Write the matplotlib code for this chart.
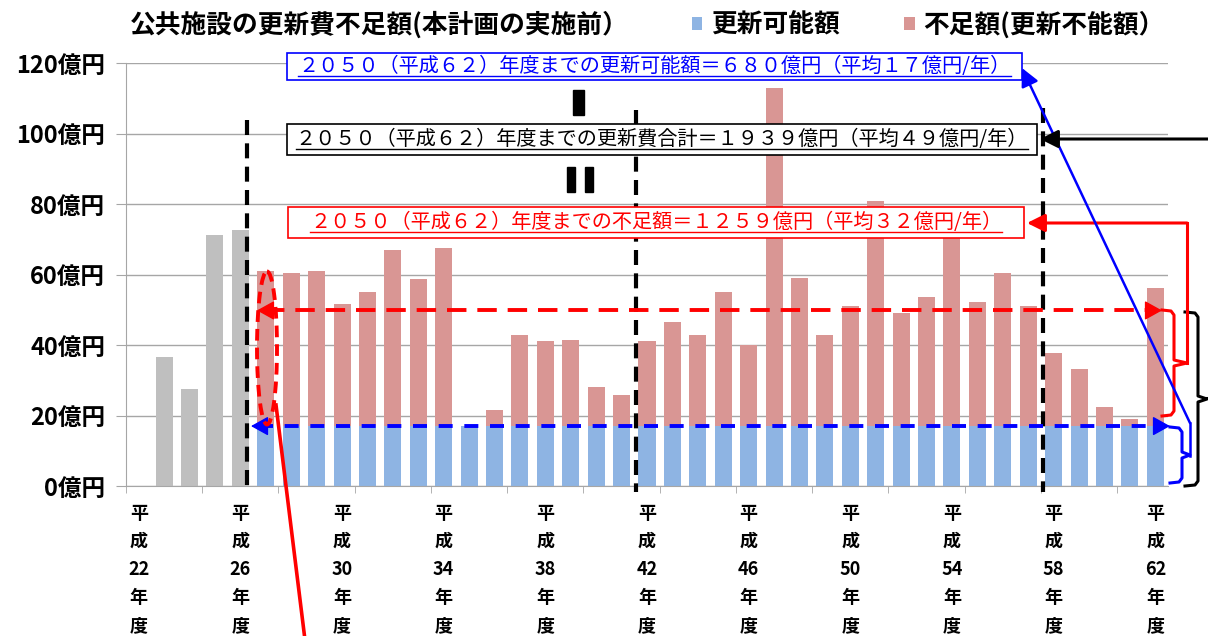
import matplotlib
matplotlib.use("Agg")
import matplotlib.pyplot as plt
import matplotlib.transforms as mtransforms
from matplotlib.patches import Rectangle, Ellipse, FancyArrowPatch
from matplotlib.lines import Line2D
import numpy as np

plt.rcParams['font.family'] = ['Noto Sans CJK JP', 'DejaVu Sans']

# fiscal years 平成22 .. 平成62
years = list(range(22, 63))
# past renewal spending (平成22-26), 億円
past_cost = [0, 36.7, 27.6, 71.1, 72.5]
# forecast renewal cost (平成27-62), 億円
total_cost = [60.9, 60.4, 61.1, 51.5, 55.0, 67.0, 58.6, 67.4, 17.0, 21.5,
              42.7, 41.1, 41.5, 28.1, 25.8, 41.1, 46.5, 42.7, 55.0, 40.1,
              112.9, 59.1, 42.7, 51.1, 80.8, 49.2, 53.5, 72.0, 52.3, 60.4,
              51.1, 37.7, 33.1, 22.3, 18.9, 56.2]
possible_per_year = 17      # 更新可能額
avg_total_line = 49.8       # average total (dashed red)

title = "公共施設の更新費不足額(本計画の実施前）"
legend_labels = ["更新可能額", "不足額(更新不能額）"]
note_possible = "２０５０（平成６２）年度までの更新可能額＝６８０億円（平均１７億円/年）"
note_total = "２０５０（平成６２）年度までの更新費合計＝１９３９億円（平均４９億円/年）"
note_short = "２０５０（平成６２）年度までの不足額＝１２５９億円（平均３２億円/年）"

GRAY = "#BFBFBF"
BLUE = "#8EB4E3"
PINK = "#D99694"
GRID = "#A6A6A6"

W, H = 1208, 636
fig = plt.figure(figsize=(W / 100, H / 100), dpi=100)
ax = fig.add_axes([126 / W, (H - 486) / H, (1168 - 126) / W, (486 - 63) / H])

x = np.arange(len(years))
n_past = len(past_cost)
possible = np.full(len(total_cost), possible_per_year, dtype=float)
shortage = np.clip(np.array(total_cost) - possible, 0, None)

bw = 0.67
ax.bar(x[:n_past], past_cost, width=bw, color=GRAY, zorder=2)
b_pos = ax.bar(x[n_past:], possible, width=bw, color=BLUE, zorder=2)
b_short = ax.bar(x[n_past:], shortage, bottom=possible, width=bw, color=PINK, zorder=2)

ax.set_xlim(-0.5, len(years) - 0.5)
ax.set_ylim(0, 120)
yt = np.arange(0, 121, 20)
ax.set_yticks(yt)
ax.set_yticklabels([f"{v}億円" for v in yt], fontsize=17, fontweight="bold")
ax.tick_params(axis="y", length=7, color=GRID, pad=8)
ax.grid(axis="y", color=GRID, lw=1, zorder=0)
ax.set_axisbelow(True)

lab_idx = x[::4]
ax.set_xticks(lab_idx)
ax.set_xticklabels([f"平\n成\n{years[i]}\n年\n度" for i in lab_idx],
                   fontsize=13, fontweight="bold", linespacing=1.6, va="top")
ax.tick_params(axis="x", length=0, pad=13)
ax.set_xticks(np.arange(-0.5, len(years) - 1, 3), minor=True)
ax.tick_params(axis="x", which="minor", length=5, color=GRID)

for s in ["top", "right"]:
    ax.spines[s].set_visible(False)
for s in ["left", "bottom"]:
    ax.spines[s].set_color(GRID)

# title and legend
fig.text(130 / W, 1 - 25 / H, title, fontsize=18.5, fontweight="bold", va="center", ha="left")
fig.legend([b_pos, b_short], legend_labels, loc="center left",
           bbox_to_anchor=(692 / W, 1 - 25 / H), ncol=2, frameon=False,
           prop={"size": 18.5, "weight": "bold"}, handlelength=0.4, handleheight=0.4,
           handletextpad=0.35, columnspacing=2.5, borderaxespad=0, borderpad=0)

# transform in reference pixel coords (origin top-left)
px = mtransforms.Affine2D().scale(1 / W, -1 / H).translate(0, 1) + fig.transFigure
bt = mtransforms.blended_transform_factory(px, ax.transData)

# vertical dashed separators
for xv, ytop in [(247, 120), (636, 110), (1043, 108)]:
    fig.add_artist(Line2D([xv, xv], [ytop, 492], transform=px, color="black",
                          lw=3.0, ls=(0, (3.6, 2.0)), zorder=3))

# horizontal dashed average lines with arrow heads
for yv, xl, xr, col, dash in [(avg_total_line, 257, 1162, "red", (5.0, 2.8)),
                              (possible_per_year, 251, 1170, "blue", (3.6, 3.0))]:
    fig.add_artist(Line2D([xl + 8, xr - 8], [yv, yv], transform=bt, color=col,
                          lw=2.8, ls=(0, dash), zorder=4))
    for a, b in [(xl + 14, xl), (xr - 14, xr)]:
        fig.add_artist(FancyArrowPatch((a, yv), (b, yv), transform=bt, color=col,
                                       arrowstyle="-|>,head_length=0.9,head_width=0.5",
                                       mutation_scale=12, lw=1, shrinkA=0, shrinkB=0, zorder=4))

# red dashed ellipse and its pointer line
fig.add_artist(Ellipse((267, 348), 20, 153, transform=px, fill=False, ec="red",
                       lw=2.8, ls=(0, (3.0, 1.8)), zorder=4))
fig.add_artist(Line2D([276, 305], [405, 640], transform=px, color="red", lw=2.6, zorder=4))

# boxes with notes
notes = [(note_possible, (287, 53, 1022, 80), "blue", "#0000FF"),
         (note_total, (287, 124, 1037, 155), "black", "black"),
         (note_short, (288, 207, 1024, 238), "red", "#FF0000")]
texts = []
for txt, (x0, y0, x1, y1), ec, tc in notes:
    fig.add_artist(Rectangle((x0, y0), x1 - x0, y1 - y0, transform=px, facecolor="white",
                             edgecolor=ec, lw=1.2, zorder=5))
    t = fig.text((x0 + x1) / 2 / W, 1 - (y0 + y1) / 2 / H, txt, transform=fig.transFigure,
                 color=tc, fontsize=14.5, ha="center", va="center", zorder=6)
    texts.append((t, tc))

# operator marks between boxes
fig.add_artist(Rectangle((573, 90), 11, 25, transform=px, color="black", zorder=5))
fig.add_artist(Rectangle((567, 167), 8, 25, transform=px, color="black", zorder=5))
fig.add_artist(Rectangle((585, 167), 8, 25, transform=px, color="black", zorder=5))


def brace(xl, xv, xt, top, bot, col, lw=2.2):
    mid = (top + bot) / 2
    xs = [xl, xv - 3, xv, xv, xt, xv, xv, xv - 3, xl]
    ys = [top, top + 1, top + 5, mid - 3, mid, mid + 3, bot - 5, bot - 1, bot]
    fig.add_artist(Line2D(xs, ys, transform=px, color=col, lw=lw, zorder=4))


brace(1162, 1174, 1187, 310, 416, "red")
brace(1170, 1182, 1190, 427, 483, "blue")
brace(1185, 1198, 1207, 312, 486, "black")

# connectors from braces to boxes
fig.add_artist(Line2D([1187, 1187], [363, 223], transform=px, color="red", lw=2.2, zorder=4))
fig.add_artist(FancyArrowPatch((1187, 223), (1027, 223), transform=px, color="red",
                               arrowstyle="-|>,head_length=0.9,head_width=0.45",
                               mutation_scale=12, lw=2.2, shrinkA=0, shrinkB=0, zorder=4))
fig.add_artist(Line2D([1190, 1190], [456, 423], transform=px, color="blue", lw=1.8, zorder=4))
fig.add_artist(FancyArrowPatch((1190, 423), (1022, 68), transform=px, color="blue",
                               arrowstyle="-|>,head_length=0.9,head_width=0.45",
                               mutation_scale=12, lw=1.8, shrinkA=0, shrinkB=0, zorder=4))
fig.add_artist(Line2D([1207, 1212], [398, 398], transform=px, color="black", lw=2.2, zorder=4))
fig.add_artist(FancyArrowPatch((1212, 139), (1040, 139), transform=px, color="black",
                               arrowstyle="-|>,head_length=0.9,head_width=0.45",
                               mutation_scale=12, lw=2.2, shrinkA=0, shrinkB=0, zorder=4))

# underline the note texts
fig.canvas.draw()
rend = fig.canvas.get_renderer()
for t, tc in texts:
    bb = t.get_window_extent(rend)
    fig.add_artist(Line2D([bb.x0, bb.x1], [bb.y0 + 1, bb.y0 + 1],
                          transform=mtransforms.IdentityTransform(), color=tc, lw=1, zorder=6))

fig.savefig("out.png", dpi=100)
